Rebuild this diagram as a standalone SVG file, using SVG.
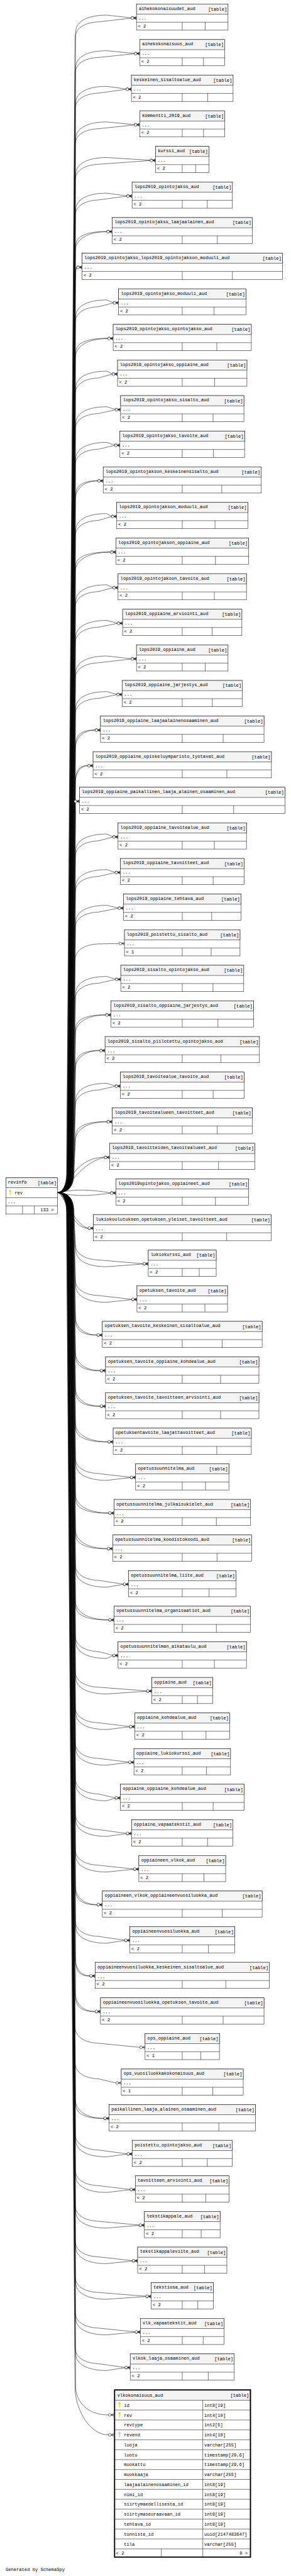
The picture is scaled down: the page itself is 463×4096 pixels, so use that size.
<svg xmlns="http://www.w3.org/2000/svg" xmlns:xlink="http://www.w3.org/1999/xlink" width="463" height="4096" viewBox="0 0 463 4096">
<defs>
<style>
text{font-family:"Liberation Mono","DejaVu Sans Mono",monospace;font-size:13.3px;fill:#000}
.e{text-anchor:end}
.t rect{fill:#fff;stroke:#000;stroke-width:1}
.t rect.h{fill:#f4f4f4}
.t path{fill:none;stroke:#000;stroke-width:1}
#connectors path{fill:none;stroke:#000;stroke-width:1;marker-end:url(#cf)}
</style>
<marker id="cf" markerUnits="userSpaceOnUse" orient="auto" refX="0" refY="0" markerWidth="20" markerHeight="12" overflow="visible">
<path d="M-8,0L0,-4.5M-8,0L0,0M-8,0L0,4.5" fill="none" stroke="#000"/>
<circle cx="-12" cy="0" r="4" fill="#fff" stroke="#000"/>
</marker>
<g id="key"><circle r="3.1"/><rect x="-0.85" y="2" width="1.7" height="10.5"/><rect x="0.8" y="7.5" width="2" height="1.3"/><circle r="1" fill="#fff"/></g>
</defs>
<rect width="463" height="4096" fill="#fff"/>
<g transform="scale(0.5375)">
<g id="connectors">
<path d="M170,3528C190,3528 200,3503 200,3468L224,94.7c0,-32 36,-50 92,-50L388,52.7h16"/>
<path d="M170,3528C187,3528 197,3503 197,3468L222,114.7c0,-30 25,-48 70,-50L388,53.7h16"/>
<path d="M170,3528C191,3528 201,3503 201,3468L224,200c0,-32 36,-50 92,-50L397.5,158h16"/>
<path d="M170,3528C188,3528 198,3503 198,3468L222,220c0,-30 25,-48 70,-50L397.5,159h16"/>
<path d="M170,3528C191,3528 201,3503 201,3468L224,305.4c0,-32 36,-50 92,-50L373,263.4h16"/>
<path d="M170,3528C188,3528 198,3503 198,3468L222,325.4c0,-30 25,-48 70,-50L373,264.4h16"/>
<path d="M170,3528C192,3528 202,3503 202,3468L224,410.7c0,-32 36,-50 92,-50L397.5,368.7h16"/>
<path d="M170,3528C189,3528 199,3503 199,3468L222,430.7c0,-30 25,-48 70,-50L397.5,369.7h16"/>
<path d="M170,3528C193,3528 203,3503 203,3468L224,516c0,-32 36,-50 92,-50L444.5,474h16"/>
<path d="M170,3528C190,3528 200,3503 200,3468L222,536c0,-30 25,-48 70,-50L444.5,475h16"/>
<path d="M170,3528C193,3528 203,3503 203,3468L224,621.4c0,-32 36,-50 92,-50L375,579.4h16"/>
<path d="M170,3528C190,3528 200,3503 200,3468L222,641.4c0,-30 25,-48 70,-50L375,580.4h16"/>
<path d="M170,3528C194,3528 204,3503 204,3468L224,726.7c0,-30 36.8,-42 92,-42h16"/>
<path d="M170,3528C191,3528 201,3503 201,3468L222,746.7c0,-40 37.6,-61 94,-61h16"/>
<path d="M170,3528C194,3528 204,3503 204,3468L224,832c0,-30 1.2,-42 3,-42h16"/>
<path d="M170,3528C191,3528 201,3503 201,3468L222,852c0,-40 2,-61 5,-61h16"/>
<path d="M170,3528C195,3528 205,3503 205,3468L224,937.3c0,-32 36,-50 92,-50L335,895.3h16"/>
<path d="M170,3528C192,3528 202,3503 202,3468L222,957.3c0,-30 25,-48 70,-50L335,896.3h16"/>
<path d="M170,3528C196,3528 206,3503 206,3468L224,1042.7c0,-30 38,-42 95,-42h16"/>
<path d="M170,3528C193,3528 203,3503 203,3468L222,1062.7c0,-40 38.8,-61 97,-61h16"/>
<path d="M170,3528C196,3528 206,3503 206,3468L224,1148c0,-32 36,-50 92,-50L332,1106h16"/>
<path d="M170,3528C193,3528 203,3503 203,3468L222,1168c0,-30 25,-48 70,-50L332,1107h16"/>
<path d="M170,3528C197,3528 207,3503 207,3468L224,1253.3c0,-32 36,-50 92,-50L341,1211.3h16"/>
<path d="M170,3528C194,3528 204,3503 204,3468L222,1273.3c0,-30 25,-48 70,-50L341,1212.3h16"/>
<path d="M170,3528C197,3528 207,3503 207,3468L224,1358.7c0,-32 36,-50 92,-50L339,1316.7h16"/>
<path d="M170,3528C194,3528 204,3503 204,3468L222,1378.7c0,-30 25,-48 70,-50L339,1317.7h16"/>
<path d="M170,3528C198,3528 208,3503 208,3468L224,1464c0,-30 26.2,-42 65.5,-42h16"/>
<path d="M170,3528C195,3528 205,3503 205,3468L222,1484c0,-40 27,-61 67.5,-61h16"/>
<path d="M170,3528C199,3528 209,3503 209,3468L224,1569.3c0,-32 36,-50 92,-50L329.5,1527.3h16"/>
<path d="M170,3528C196,3528 206,3503 206,3468L222,1589.3c0,-30 25,-48 70,-50L329.5,1528.3h16"/>
<path d="M170,3528C199,3528 209,3503 209,3468L224,1674.7c0,-30 41.2,-42 103,-42h16"/>
<path d="M170,3528C196,3528 206,3503 206,3468L222,1694.7c0,-40 42,-61 105,-61h16"/>
<path d="M170,3528C200,3528 210,3503 210,3468L224,1780c0,-32 36,-50 92,-50L333.5,1738h16"/>
<path d="M170,3528C197,3528 207,3503 207,3468L222,1800c0,-30 25,-48 70,-50L333.5,1739h16"/>
<path d="M170,3528C200,3528 210,3503 210,3468L224,1885.3c0,-32 36,-50 92,-50L347,1843.3h16"/>
<path d="M170,3528C197,3528 207,3503 207,3468L222,1905.3c0,-30 25,-48 70,-50L347,1844.3h16"/>
<path d="M170,3528C201,3528 211,3503 211,3468L224,1990.6c0,-32 36,-50 92,-50L388,1948.6h16"/>
<path d="M170,3528C198,3528 208,3503 208,3468L222,2010.6c0,-30 25,-48 70,-50L388,1949.6h16"/>
<path d="M170,3528C202,3528 212,3503 212,3468L224,2096c0,-32 36,-50 92,-50L345.5,2054h16"/>
<path d="M170,3528C199,3528 209,3503 209,3468L222,2116c0,-30 25,-48 70,-50L345.5,2055h16"/>
<path d="M170,3528C202,3528 212,3503 212,3468L224,2201.3c0,-30 23,-42 57.5,-42h16"/>
<path d="M170,3528C199,3528 209,3503 209,3468L222,2221.3c0,-40 23.8,-61 59.5,-61h16"/>
<path d="M170,3528C203,3528 213,3503 213,3468L224,2306.6c0,-30 14.2,-42 35.5,-42h16"/>
<path d="M170,3528C200,3528 210,3503 210,3468L222,2326.6c0,-40 15,-61 37.5,-61h16"/>
<path d="M170,3528C203,3528 213,3503 213,3468L224,2412c0,-30 -1.8,-42 -4.5,-42h16"/>
<path d="M170,3528C200,3528 210,3503 210,3468L222,2432c0,-40 -1,-61 -2.5,-61h16"/>
<path d="M170,3528C204,3528 214,3503 214,3468L224,2517.3c0,-32 36,-50 92,-50L333.5,2475.3h16"/>
<path d="M170,3528C201,3528 211,3503 211,3468L222,2537.3c0,-30 25,-48 70,-50L333.5,2476.3h16"/>
<path d="M170,3528C205,3528 215,3503 215,3468L224,2622.6c0,-32 36,-50 92,-50L340.5,2580.6h16"/>
<path d="M170,3528C202,3528 212,3503 212,3468L222,2642.6c0,-30 25,-48 70,-50L340.5,2581.6h16"/>
<path d="M170,3528C205,3528 215,3503 215,3468L224,2728c0,-32 36,-50 92,-50L349.5,2686h16"/>
<path d="M170,3528C202,3528 212,3503 212,3468L222,2748c0,-30 25,-48 70,-50L349.5,2687h16"/>
<path d="M170,3528C203,3528 213,3503 213,3468L222,2842.3c0,-30 25,-48 70,-50L352.5,2791.3h16"/>
<path d="M170,3528C206,3528 216,3503 216,3468L224,2938.6c0,-32 36,-50 92,-50L341.5,2896.6h16"/>
<path d="M170,3528C203,3528 213,3503 213,3468L222,2958.6c0,-30 25,-48 70,-50L341.5,2897.6h16"/>
<path d="M170,3528C207,3528 217,3503 217,3468L224,3043.9c0,-30 35.4,-42 88.5,-42h16"/>
<path d="M170,3528C204,3528 214,3503 214,3468L222,3063.9c0,-40 36.2,-61 90.5,-61h16"/>
<path d="M170,3528C208,3528 218,3503 218,3468L224,3149.3c0,-30 28.4,-42 71,-42h16"/>
<path d="M170,3528C205,3528 215,3503 215,3468L222,3169.3c0,-40 29.2,-61 73,-61h16"/>
<path d="M170,3528C208,3528 218,3503 218,3468L224,3254.6c0,-32 36,-50 92,-50L340.5,3212.6h16"/>
<path d="M170,3528C205,3528 215,3503 215,3468L222,3274.6c0,-30 25,-48 70,-50L340.5,3213.6h16"/>
<path d="M170,3528C209,3528 219,3503 219,3468L224,3359.9c0,-30 37,-42 92.5,-42h16"/>
<path d="M170,3528C206,3528 216,3503 216,3468L222,3379.9c0,-40 37.8,-61 94.5,-61h16"/>
<path d="M170,3528C200,3528 210,3425 308.5,3423.3h16"/>
<path d="M170,3528C190,3540 230,3440 308.5,3424.3h16"/>
<path d="M170,3528C230,3516 270,3520 327,3528.6h16"/>
<path d="M170,3528C230,3541 270,3537 327,3529.6h16"/>
<path d="M170,3528C195,3528 205,3632 260.5,3633.9h16"/>
<path d="M170,3528C190,3530 220,3626 260.5,3632.9h16"/>
<path d="M170,3528C209,3528 219,3553 219,3588L224,3697.3c0,32 36,50 92,50L423,3739.3h16"/>
<path d="M170,3528C206,3528 216,3553 216,3588L222,3677.3c0,30 25,48 70,50L423,3738.3h16"/>
<path d="M170,3528C208,3528 218,3553 218,3588L224,3802.6c0,32 36,50 92,50L389.5,3844.6h16"/>
<path d="M170,3528C205,3528 215,3553 215,3588L222,3782.6c0,30 25,48 70,50L389.5,3843.6h16"/>
<path d="M170,3528C208,3528 218,3553 218,3588L224,3907.9c0,30 25.2,42 63,42h16"/>
<path d="M170,3528C205,3528 215,3553 215,3588L222,3887.9c0,40 26,61 65,61h16"/>
<path d="M170,3528C207,3528 217,3553 217,3588L224,4013.2c0,30 29,42 72.5,42h16"/>
<path d="M170,3528C204,3528 214,3553 214,3588L222,3993.2c0,40 29.8,61 74.5,61h16"/>
<path d="M170,3528C206,3528 216,3553 216,3588L224,4118.6c0,30 29,42 72.5,42h16"/>
<path d="M170,3528C203,3528 213,3553 213,3588L222,4098.6c0,40 29.8,61 74.5,61h16"/>
<path d="M170,3528C206,3528 216,3553 216,3588L224,4223.9c0,30 38,42 95,42h16"/>
<path d="M170,3528C203,3528 213,3553 213,3588L222,4203.9c0,40 38.8,61 97,61h16"/>
<path d="M170,3528C205,3528 215,3553 215,3588L224,4329.2c0,32 36,50 92,50L385.5,4371.2h16"/>
<path d="M170,3528C202,3528 212,3553 212,3588L222,4309.2c0,30 25,48 70,50L385.5,4370.2h16"/>
<path d="M170,3528C205,3528 215,3553 215,3588L224,4434.6c0,30 39,42 97.5,42h16"/>
<path d="M170,3528C202,3528 212,3553 212,3588L222,4414.6c0,40 39.8,61 99.5,61h16"/>
<path d="M170,3528C204,3528 214,3553 214,3588L224,4539.9c0,30 37.4,42 93.5,42h16"/>
<path d="M170,3528C201,3528 211,3553 211,3588L222,4519.9c0,40 38.2,61 95.5,61h16"/>
<path d="M170,3528C203,3528 213,3553 213,3588L224,4645.2c0,32 36,50 92,50L364.5,4687.2h16"/>
<path d="M170,3528C200,3528 210,3553 210,3588L222,4625.2c0,30 25,48 70,50L364.5,4686.2h16"/>
<path d="M170,3528C203,3528 213,3553 213,3588L224,4750.6c0,30 39,42 97.5,42h16"/>
<path d="M170,3528C200,3528 210,3553 210,3588L222,4730.6c0,40 39.8,61 99.5,61h16"/>
<path d="M170,3528C202,3528 212,3553 212,3588L224,4855.9c0,32 36,50 92,50L333.5,4897.9h16"/>
<path d="M170,3528C199,3528 209,3553 209,3588L222,4835.9c0,30 25,48 70,50L333.5,4896.9h16"/>
<path d="M170,3528C202,3528 212,3553 212,3588L224,4961.2c0,32 36,50 92,50L433.5,5003.2h16"/>
<path d="M170,3528C199,3528 209,3553 209,3588L222,4941.2c0,30 25,48 70,50L433.5,5002.2h16"/>
<path d="M170,3528C201,3528 211,3553 211,3588L224,5066.5c0,32 36,50 92,50L383,5108.5h16"/>
<path d="M170,3528C198,3528 208,3553 208,3588L222,5046.5c0,30 25,48 70,50L383,5107.5h16"/>
<path d="M170,3528C200,3528 210,3553 210,3588L224,5171.9c0,32 36,50 92,50L380.5,5213.9h16"/>
<path d="M170,3528C197,3528 207,3553 207,3588L222,5151.9c0,30 25,48 70,50L380.5,5212.9h16"/>
<path d="M170,3528C200,3528 210,3553 210,3588L224,5277.2c0,32 36,50 92,50L340.5,5319.2h16"/>
<path d="M170,3528C197,3528 207,3553 207,3588L222,5257.2c0,30 25,48 70,50L340.5,5318.2h16"/>
<path d="M170,3528C199,3528 209,3553 209,3588L224,5382.5c0,32 36,50 92,50L373.5,5424.5h16"/>
<path d="M170,3528C196,3528 206,3553 206,3588L222,5362.5c0,30 25,48 70,50L373.5,5423.5h16"/>
<path d="M170,3528C199,3528 209,3553 209,3588L224,5487.9c0,32 36,50 92,50L395,5529.9h16"/>
<path d="M170,3528C196,3528 206,3553 206,3588L222,5467.9c0,30 25,48 70,50L395,5528.9h16"/>
<path d="M170,3528C198,3528 208,3553 208,3588L224,5593.2c0,30 25.2,42 63,42h16"/>
<path d="M170,3528C195,3528 205,3553 205,3588L222,5573.2c0,40 26,61 65,61h16"/>
<path d="M170,3528C197,3528 207,3553 207,3588L224,5698.5c0,32 36,50 92,50L368.5,5740.5h16"/>
<path d="M170,3528C194,3528 204,3553 204,3588L222,5678.5c0,30 25,48 70,50L368.5,5739.5h16"/>
<path d="M170,3528C197,3528 207,3553 207,3588L224,5803.9c0,30 16.6,42 41.5,42h16"/>
<path d="M170,3528C194,3528 204,3553 204,3588L222,5783.9c0,40 17.4,61 43.5,61h16"/>
<path d="M170,3528C196,3528 206,3553 206,3588L224,5909.2c0,30 23,42 57.5,42h16"/>
<path d="M170,3528C193,3528 203,3553 203,3588L222,5889.2c0,40 23.8,61 59.5,61h16"/>
<path d="M170,3528C193,3528 203,3553 203,3588L222,5994.5c0,30 25,48 70,50L413.5,6056.5h16"/>
<path d="M170,3528C192,3528 202,3553 202,3588L222,6099.8c0,30 25,48 70,50L343,6161.8h16"/>
<path d="M170,3528C194,3528 204,3553 204,3588L224,6225.2c0,30 33.2,42 83,42h16"/>
<path d="M170,3528C191,3528 201,3553 201,3588L222,6205.2c0,40 34,61 85,61h16"/>
<path d="M170,3528C194,3528 204,3553 204,3588L224,6330.5c0,32 36,50 92,50L375.5,6372.5h16"/>
<path d="M170,3528C191,3528 201,3553 201,3588L222,6310.5c0,30 25,48 70,50L375.5,6371.5h16"/>
<path d="M170,3528C193,3528 203,3553 203,3588L224,6435.8c0,32 36,50 92,50L384.5,6477.8h16"/>
<path d="M170,3528C190,3528 200,3553 200,3588L222,6415.8c0,30 25,48 70,50L384.5,6476.8h16"/>
<path d="M170,3528C193,3528 203,3553 203,3588L224,6541.2c0,32 36,50 92,50L411.5,6583.2h16"/>
<path d="M170,3528C190,3528 200,3553 200,3588L222,6521.2c0,30 25,48 70,50L411.5,6582.2h16"/>
<path d="M170,3528C192,3528 202,3553 202,3588L224,6646.5c0,32 36,50 92,50L391.5,6688.5h16"/>
<path d="M170,3528C189,3528 199,3553 199,3588L222,6626.5c0,30 25,48 70,50L391.5,6687.5h16"/>
<path d="M170,3528C191,3528 201,3553 201,3588L224,6751.8c0,32 36,50 92,50L431.5,6793.8h16"/>
<path d="M170,3528C188,3528 198,3553 198,3588L222,6731.8c0,30 25,48 70,50L431.5,6792.8h16"/>
<path d="M170,3528C191,3528 201,3553 201,3588L224,6857.2c0,32 36,50 92,50L399.5,6899.2h16"/>
<path d="M170,3528C188,3528 198,3553 198,3588L222,6837.2c0,30 25,48 70,50L399.5,6898.2h16"/>
<path d="M170,3528C190,3528 200,3553 200,3588L224,6962.5c0,32 36,50 92,50L369.5,7004.5h16"/>
<path d="M170,3528C187,3528 197,3553 197,3588L222,6942.5c0,30 25,48 70,50L369.5,7003.5h16"/>
<path d="M170,3528C190,3528 200,3553 200,3588L224,7060c0,40 30,84 97,84h16"/>
<path d="M170,3528C187,3528 197,3553 197,3588L222,7062c0,60 40,141 99,141h16"/>
</g>
<g id="revinfo" class="t" transform="translate(17.3,3484.3)"><rect width="153" height="106.7"/><rect class="h" width="153" height="29"/><path d="M0,59H153M0,83H153M49.4,83V106.7M84.4,83V106.7"/><use xlink:href="#key" x="12.7" y="39" fill="#d4d400"/><text x="6" y="18">revinfo</text><text class="e" x="150" y="19.5">[table]</text><text x="26" y="49">rev</text><text x="5.4" y="75">...</text><text class="e" x="142" y="98.4">133 &gt;</text></g>
<g id="aihekokonaisuudet_aud" class="t" transform="translate(404,11.7)"><rect width="271" height="77.5"/><rect class="h" width="271" height="30"/><path d="M0,54H271M135.5,54V77.5M203.3,54V77.5"/><text x="7" y="17.5">aihekokonaisuudet_aud</text><text class="e" x="268" y="19.5">[table]</text><text x="6" y="45.5">...</text><text x="4.5" y="69.5">&lt; 2</text></g>
<g id="aihekokonaisuus_aud" class="t" transform="translate(413.5,117)"><rect width="252" height="77.5"/><rect class="h" width="252" height="30"/><path d="M0,54H252M126,54V77.5M189,54V77.5"/><text x="7" y="17.5">aihekokonaisuus_aud</text><text class="e" x="249" y="19.5">[table]</text><text x="6" y="45.5">...</text><text x="4.5" y="69.5">&lt; 2</text></g>
<g id="keskeinen_sisaltoalue_aud" class="t" transform="translate(389,222.4)"><rect width="301" height="77.5"/><rect class="h" width="301" height="30"/><path d="M0,54H301M150.5,54V77.5M225.8,54V77.5"/><text x="7" y="17.5">keskeinen_sisaltoalue_aud</text><text class="e" x="298" y="19.5">[table]</text><text x="6" y="45.5">...</text><text x="4.5" y="69.5">&lt; 2</text></g>
<g id="kommentti_2019_aud" class="t" transform="translate(413.5,327.7)"><rect width="252" height="77.5"/><rect class="h" width="252" height="30"/><path d="M0,54H252M126,54V77.5M189,54V77.5"/><text x="7" y="17.5">kommentti_2019_aud</text><text class="e" x="249" y="19.5">[table]</text><text x="6" y="45.5">...</text><text x="4.5" y="69.5">&lt; 2</text></g>
<g id="kurssi_aud" class="t" transform="translate(460.5,433)"><rect width="158" height="77.5"/><rect class="h" width="158" height="30"/><path d="M0,54H158M79,54V77.5M118.5,54V77.5"/><text x="7" y="17.5">kurssi_aud</text><text class="e" x="155" y="19.5">[table]</text><text x="6" y="45.5">...</text><text x="4.5" y="69.5">&lt; 2</text></g>
<g id="lops2019_opintojakso_aud" class="t" transform="translate(391,538.4)"><rect width="297" height="77.5"/><rect class="h" width="297" height="30"/><path d="M0,54H297M148.5,54V77.5M222.8,54V77.5"/><text x="7" y="17.5">lops2019_opintojakso_aud</text><text class="e" x="294" y="19.5">[table]</text><text x="6" y="45.5">...</text><text x="4.5" y="69.5">&lt; 2</text></g>
<g id="lops2019_opintojakso_laajaalainen_aud" class="t" transform="translate(332,643.7)"><rect width="415" height="77.5"/><rect class="h" width="415" height="30"/><path d="M0,54H415M207.5,54V77.5M311.3,54V77.5"/><text x="7" y="17.5">lops2019_opintojakso_laajaalainen_aud</text><text class="e" x="412" y="19.5">[table]</text><text x="6" y="45.5">...</text><text x="4.5" y="69.5">&lt; 2</text></g>
<g id="lops2019_opintojakso_lops2019_opintojakson_moduuli_aud" class="t" transform="translate(243,749)"><rect width="593" height="77.5"/><rect class="h" width="593" height="30"/><path d="M0,54H593M296.5,54V77.5M444.8,54V77.5"/><text x="7" y="17.5">lops2019_opintojakso_lops2019_opintojakson_moduuli_aud</text><text class="e" x="590" y="19.5">[table]</text><text x="6" y="45.5">...</text><text x="4.5" y="69.5">&lt; 2</text></g>
<g id="lops2019_opintojakso_moduuli_aud" class="t" transform="translate(351,854.3)"><rect width="377" height="77.5"/><rect class="h" width="377" height="30"/><path d="M0,54H377M188.5,54V77.5M282.8,54V77.5"/><text x="7" y="17.5">lops2019_opintojakso_moduuli_aud</text><text class="e" x="374" y="19.5">[table]</text><text x="6" y="45.5">...</text><text x="4.5" y="69.5">&lt; 2</text></g>
<g id="lops2019_opintojakso_opintojakso_aud" class="t" transform="translate(335,959.7)"><rect width="409" height="77.5"/><rect class="h" width="409" height="30"/><path d="M0,54H409M204.5,54V77.5M306.8,54V77.5"/><text x="7" y="17.5">lops2019_opintojakso_opintojakso_aud</text><text class="e" x="406" y="19.5">[table]</text><text x="6" y="45.5">...</text><text x="4.5" y="69.5">&lt; 2</text></g>
<g id="lops2019_opintojakso_oppiaine_aud" class="t" transform="translate(348,1065)"><rect width="383" height="77.5"/><rect class="h" width="383" height="30"/><path d="M0,54H383M191.5,54V77.5M287.3,54V77.5"/><text x="7" y="17.5">lops2019_opintojakso_oppiaine_aud</text><text class="e" x="380" y="19.5">[table]</text><text x="6" y="45.5">...</text><text x="4.5" y="69.5">&lt; 2</text></g>
<g id="lops2019_opintojakso_sisalto_aud" class="t" transform="translate(357,1170.3)"><rect width="365" height="77.5"/><rect class="h" width="365" height="30"/><path d="M0,54H365M182.5,54V77.5M273.8,54V77.5"/><text x="7" y="17.5">lops2019_opintojakso_sisalto_aud</text><text class="e" x="362" y="19.5">[table]</text><text x="6" y="45.5">...</text><text x="4.5" y="69.5">&lt; 2</text></g>
<g id="lops2019_opintojakso_tavoite_aud" class="t" transform="translate(355,1275.7)"><rect width="369" height="77.5"/><rect class="h" width="369" height="30"/><path d="M0,54H369M184.5,54V77.5M276.8,54V77.5"/><text x="7" y="17.5">lops2019_opintojakso_tavoite_aud</text><text class="e" x="366" y="19.5">[table]</text><text x="6" y="45.5">...</text><text x="4.5" y="69.5">&lt; 2</text></g>
<g id="lops2019_opintojakson_keskeinensisalto_aud" class="t" transform="translate(305.5,1381)"><rect width="468" height="77.5"/><rect class="h" width="468" height="30"/><path d="M0,54H468M234,54V77.5M351,54V77.5"/><text x="7" y="17.5">lops2019_opintojakson_keskeinensisalto_aud</text><text class="e" x="465" y="19.5">[table]</text><text x="6" y="45.5">...</text><text x="4.5" y="69.5">&lt; 2</text></g>
<g id="lops2019_opintojakson_moduuli_aud" class="t" transform="translate(345.5,1486.3)"><rect width="388" height="77.5"/><rect class="h" width="388" height="30"/><path d="M0,54H388M194,54V77.5M291,54V77.5"/><text x="7" y="17.5">lops2019_opintojakson_moduuli_aud</text><text class="e" x="385" y="19.5">[table]</text><text x="6" y="45.5">...</text><text x="4.5" y="69.5">&lt; 2</text></g>
<g id="lops2019_opintojakson_oppiaine_aud" class="t" transform="translate(343,1591.7)"><rect width="393" height="77.5"/><rect class="h" width="393" height="30"/><path d="M0,54H393M196.5,54V77.5M294.8,54V77.5"/><text x="7" y="17.5">lops2019_opintojakson_oppiaine_aud</text><text class="e" x="390" y="19.5">[table]</text><text x="6" y="45.5">...</text><text x="4.5" y="69.5">&lt; 2</text></g>
<g id="lops2019_opintojakson_tavoite_aud" class="t" transform="translate(349.5,1697)"><rect width="380" height="77.5"/><rect class="h" width="380" height="30"/><path d="M0,54H380M190,54V77.5M285,54V77.5"/><text x="7" y="17.5">lops2019_opintojakson_tavoite_aud</text><text class="e" x="377" y="19.5">[table]</text><text x="6" y="45.5">...</text><text x="4.5" y="69.5">&lt; 2</text></g>
<g id="lops2019_oppiaine_arviointi_aud" class="t" transform="translate(363,1802.3)"><rect width="353" height="77.5"/><rect class="h" width="353" height="30"/><path d="M0,54H353M176.5,54V77.5M264.8,54V77.5"/><text x="7" y="17.5">lops2019_oppiaine_arviointi_aud</text><text class="e" x="350" y="19.5">[table]</text><text x="6" y="45.5">...</text><text x="4.5" y="69.5">&lt; 2</text></g>
<g id="lops2019_oppiaine_aud" class="t" transform="translate(404,1907.6)"><rect width="271" height="77.5"/><rect class="h" width="271" height="30"/><path d="M0,54H271M135.5,54V77.5M203.3,54V77.5"/><text x="7" y="17.5">lops2019_oppiaine_aud</text><text class="e" x="268" y="19.5">[table]</text><text x="6" y="45.5">...</text><text x="4.5" y="69.5">&lt; 2</text></g>
<g id="lops2019_oppiaine_jarjestys_aud" class="t" transform="translate(361.5,2013)"><rect width="356" height="77.5"/><rect class="h" width="356" height="30"/><path d="M0,54H356M178,54V77.5M267,54V77.5"/><text x="7" y="17.5">lops2019_oppiaine_jarjestys_aud</text><text class="e" x="353" y="19.5">[table]</text><text x="6" y="45.5">...</text><text x="4.5" y="69.5">&lt; 2</text></g>
<g id="lops2019_oppiaine_laajaalainenosaaminen_aud" class="t" transform="translate(297.5,2118.3)"><rect width="484" height="77.5"/><rect class="h" width="484" height="30"/><path d="M0,54H484M242,54V77.5M363,54V77.5"/><text x="7" y="17.5">lops2019_oppiaine_laajaalainenosaaminen_aud</text><text class="e" x="481" y="19.5">[table]</text><text x="6" y="45.5">...</text><text x="4.5" y="69.5">&lt; 2</text></g>
<g id="lops2019_oppiaine_opiskeluymparisto_tyotavat_aud" class="t" transform="translate(275.5,2223.6)"><rect width="528" height="77.5"/><rect class="h" width="528" height="30"/><path d="M0,54H528M264,54V77.5M396,54V77.5"/><text x="7" y="17.5">lops2019_oppiaine_opiskeluymparisto_tyotavat_aud</text><text class="e" x="525" y="19.5">[table]</text><text x="6" y="45.5">...</text><text x="4.5" y="69.5">&lt; 2</text></g>
<g id="lops2019_oppiaine_paikallinen_laaja_alainen_osaaminen_aud" class="t" transform="translate(235.5,2329)"><rect width="608" height="77.5"/><rect class="h" width="608" height="30"/><path d="M0,54H608M304,54V77.5M456,54V77.5"/><text x="7" y="17.5">lops2019_oppiaine_paikallinen_laaja_alainen_osaaminen_aud</text><text class="e" x="605" y="19.5">[table]</text><text x="6" y="45.5">...</text><text x="4.5" y="69.5">&lt; 2</text></g>
<g id="lops2019_oppiaine_tavoitealue_aud" class="t" transform="translate(349.5,2434.3)"><rect width="380" height="77.5"/><rect class="h" width="380" height="30"/><path d="M0,54H380M190,54V77.5M285,54V77.5"/><text x="7" y="17.5">lops2019_oppiaine_tavoitealue_aud</text><text class="e" x="377" y="19.5">[table]</text><text x="6" y="45.5">...</text><text x="4.5" y="69.5">&lt; 2</text></g>
<g id="lops2019_oppiaine_tavoitteet_aud" class="t" transform="translate(356.5,2539.6)"><rect width="366" height="77.5"/><rect class="h" width="366" height="30"/><path d="M0,54H366M183,54V77.5M274.5,54V77.5"/><text x="7" y="17.5">lops2019_oppiaine_tavoitteet_aud</text><text class="e" x="363" y="19.5">[table]</text><text x="6" y="45.5">...</text><text x="4.5" y="69.5">&lt; 2</text></g>
<g id="lops2019_oppiaine_tehtava_aud" class="t" transform="translate(365.5,2645)"><rect width="348" height="77.5"/><rect class="h" width="348" height="30"/><path d="M0,54H348M174,54V77.5M261,54V77.5"/><text x="7" y="17.5">lops2019_oppiaine_tehtava_aud</text><text class="e" x="345" y="19.5">[table]</text><text x="6" y="45.5">...</text><text x="4.5" y="69.5">&lt; 2</text></g>
<g id="lops2019_poistettu_sisalto_aud" class="t" transform="translate(368.5,2750.3)"><rect width="342" height="77.5"/><rect class="h" width="342" height="30"/><path d="M0,54H342M171,54V77.5M256.5,54V77.5"/><text x="7" y="17.5">lops2019_poistettu_sisalto_aud</text><text class="e" x="339" y="19.5">[table]</text><text x="6" y="45.5">...</text><text x="4.5" y="69.5">&lt; 1</text></g>
<g id="lops2019_sisalto_opintojakso_aud" class="t" transform="translate(357.5,2855.6)"><rect width="364" height="77.5"/><rect class="h" width="364" height="30"/><path d="M0,54H364M182,54V77.5M273,54V77.5"/><text x="7" y="17.5">lops2019_sisalto_opintojakso_aud</text><text class="e" x="361" y="19.5">[table]</text><text x="6" y="45.5">...</text><text x="4.5" y="69.5">&lt; 2</text></g>
<g id="lops2019_sisalto_oppiaine_jarjestys_aud" class="t" transform="translate(328.5,2960.9)"><rect width="422" height="77.5"/><rect class="h" width="422" height="30"/><path d="M0,54H422M211,54V77.5M316.5,54V77.5"/><text x="7" y="17.5">lops2019_sisalto_oppiaine_jarjestys_aud</text><text class="e" x="419" y="19.5">[table]</text><text x="6" y="45.5">...</text><text x="4.5" y="69.5">&lt; 2</text></g>
<g id="lops2019_sisalto_piilotettu_opintojakso_aud" class="t" transform="translate(311,3066.3)"><rect width="457" height="77.5"/><rect class="h" width="457" height="30"/><path d="M0,54H457M228.5,54V77.5M342.8,54V77.5"/><text x="7" y="17.5">lops2019_sisalto_piilotettu_opintojakso_aud</text><text class="e" x="454" y="19.5">[table]</text><text x="6" y="45.5">...</text><text x="4.5" y="69.5">&lt; 2</text></g>
<g id="lops2019_tavoitealue_tavoite_aud" class="t" transform="translate(356.5,3171.6)"><rect width="366" height="77.5"/><rect class="h" width="366" height="30"/><path d="M0,54H366M183,54V77.5M274.5,54V77.5"/><text x="7" y="17.5">lops2019_tavoitealue_tavoite_aud</text><text class="e" x="363" y="19.5">[table]</text><text x="6" y="45.5">...</text><text x="4.5" y="69.5">&lt; 2</text></g>
<g id="lops2019_tavoitealueen_tavoitteet_aud" class="t" transform="translate(332.5,3276.9)"><rect width="414" height="77.5"/><rect class="h" width="414" height="30"/><path d="M0,54H414M207,54V77.5M310.5,54V77.5"/><text x="7" y="17.5">lops2019_tavoitealueen_tavoitteet_aud</text><text class="e" x="411" y="19.5">[table]</text><text x="6" y="45.5">...</text><text x="4.5" y="69.5">&lt; 2</text></g>
<g id="lops2019_tavoitteiden_tavoitealueet_aud" class="t" transform="translate(324.5,3382.3)"><rect width="430" height="77.5"/><rect class="h" width="430" height="30"/><path d="M0,54H430M215,54V77.5M322.5,54V77.5"/><text x="7" y="17.5">lops2019_tavoitteiden_tavoitealueet_aud</text><text class="e" x="427" y="19.5">[table]</text><text x="6" y="45.5">...</text><text x="4.5" y="69.5">&lt; 2</text></g>
<g id="lops2019opintojakso_oppiaineet_aud" class="t" transform="translate(343,3487.6)"><rect width="393" height="77.5"/><rect class="h" width="393" height="30"/><path d="M0,54H393M196.5,54V77.5M294.8,54V77.5"/><text x="7" y="17.5">lops2019opintojakso_oppiaineet_aud</text><text class="e" x="390" y="19.5">[table]</text><text x="6" y="45.5">...</text><text x="4.5" y="69.5">&lt; 2</text></g>
<g id="lukiokoulutuksen_opetuksen_yleiset_tavoitteet_aud" class="t" transform="translate(276.5,3592.9)"><rect width="526" height="77.5"/><rect class="h" width="526" height="30"/><path d="M0,54H526M263,54V77.5M394.5,54V77.5"/><text x="7" y="17.5">lukiokoulutuksen_opetuksen_yleiset_tavoitteet_aud</text><text class="e" x="523" y="19.5">[table]</text><text x="6" y="45.5">...</text><text x="4.5" y="69.5">&lt; 2</text></g>
<g id="lukiokurssi_aud" class="t" transform="translate(439,3698.3)"><rect width="201" height="77.5"/><rect class="h" width="201" height="30"/><path d="M0,54H201M100.5,54V77.5M150.8,54V77.5"/><text x="7" y="17.5">lukiokurssi_aud</text><text class="e" x="198" y="19.5">[table]</text><text x="6" y="45.5">...</text><text x="4.5" y="69.5">&lt; 2</text></g>
<g id="opetuksen_tavoite_aud" class="t" transform="translate(405.5,3803.6)"><rect width="268" height="77.5"/><rect class="h" width="268" height="30"/><path d="M0,54H268M134,54V77.5M201,54V77.5"/><text x="7" y="17.5">opetuksen_tavoite_aud</text><text class="e" x="265" y="19.5">[table]</text><text x="6" y="45.5">...</text><text x="4.5" y="69.5">&lt; 2</text></g>
<g id="opetuksen_tavoite_keskeinen_sisaltoalue_aud" class="t" transform="translate(303,3908.9)"><rect width="473" height="77.5"/><rect class="h" width="473" height="30"/><path d="M0,54H473M236.5,54V77.5M354.8,54V77.5"/><text x="7" y="17.5">opetuksen_tavoite_keskeinen_sisaltoalue_aud</text><text class="e" x="470" y="19.5">[table]</text><text x="6" y="45.5">...</text><text x="4.5" y="69.5">&lt; 2</text></g>
<g id="opetuksen_tavoite_oppiaine_kohdealue_aud" class="t" transform="translate(312.5,4014.2)"><rect width="454" height="77.5"/><rect class="h" width="454" height="30"/><path d="M0,54H454M227,54V77.5M340.5,54V77.5"/><text x="7" y="17.5">opetuksen_tavoite_oppiaine_kohdealue_aud</text><text class="e" x="451" y="19.5">[table]</text><text x="6" y="45.5">...</text><text x="4.5" y="69.5">&lt; 2</text></g>
<g id="opetuksen_tavoite_tavoitteen_arviointi_aud" class="t" transform="translate(312.5,4119.6)"><rect width="454" height="77.5"/><rect class="h" width="454" height="30"/><path d="M0,54H454M227,54V77.5M340.5,54V77.5"/><text x="7" y="17.5">opetuksen_tavoite_tavoitteen_arviointi_aud</text><text class="e" x="451" y="19.5">[table]</text><text x="6" y="45.5">...</text><text x="4.5" y="69.5">&lt; 2</text></g>
<g id="opetuksentavoite_laajattavoitteet_aud" class="t" transform="translate(335,4224.9)"><rect width="409" height="77.5"/><rect class="h" width="409" height="30"/><path d="M0,54H409M204.5,54V77.5M306.8,54V77.5"/><text x="7" y="17.5">opetuksentavoite_laajattavoitteet_aud</text><text class="e" x="406" y="19.5">[table]</text><text x="6" y="45.5">...</text><text x="4.5" y="69.5">&lt; 2</text></g>
<g id="opetussuunnitelma_aud" class="t" transform="translate(401.5,4330.2)"><rect width="276" height="77.5"/><rect class="h" width="276" height="30"/><path d="M0,54H276M138,54V77.5M207,54V77.5"/><text x="7" y="17.5">opetussuunnitelma_aud</text><text class="e" x="273" y="19.5">[table]</text><text x="6" y="45.5">...</text><text x="4.5" y="69.5">&lt; 2</text></g>
<g id="opetussuunnitelma_julkaisukielet_aud" class="t" transform="translate(337.5,4435.6)"><rect width="404" height="77.5"/><rect class="h" width="404" height="30"/><path d="M0,54H404M202,54V77.5M303,54V77.5"/><text x="7" y="17.5">opetussuunnitelma_julkaisukielet_aud</text><text class="e" x="401" y="19.5">[table]</text><text x="6" y="45.5">...</text><text x="4.5" y="69.5">&lt; 2</text></g>
<g id="opetussuunnitelma_koodistokoodi_aud" class="t" transform="translate(333.5,4540.9)"><rect width="412" height="77.5"/><rect class="h" width="412" height="30"/><path d="M0,54H412M206,54V77.5M309,54V77.5"/><text x="7" y="17.5">opetussuunnitelma_koodistokoodi_aud</text><text class="e" x="409" y="19.5">[table]</text><text x="6" y="45.5">...</text><text x="4.5" y="69.5">&lt; 2</text></g>
<g id="opetussuunnitelma_liite_aud" class="t" transform="translate(380.5,4646.2)"><rect width="318" height="77.5"/><rect class="h" width="318" height="30"/><path d="M0,54H318M159,54V77.5M238.5,54V77.5"/><text x="7" y="17.5">opetussuunnitelma_liite_aud</text><text class="e" x="315" y="19.5">[table]</text><text x="6" y="45.5">...</text><text x="4.5" y="69.5">&lt; 2</text></g>
<g id="opetussuunnitelma_organisaatiot_aud" class="t" transform="translate(337.5,4751.6)"><rect width="404" height="77.5"/><rect class="h" width="404" height="30"/><path d="M0,54H404M202,54V77.5M303,54V77.5"/><text x="7" y="17.5">opetussuunnitelma_organisaatiot_aud</text><text class="e" x="401" y="19.5">[table]</text><text x="6" y="45.5">...</text><text x="4.5" y="69.5">&lt; 2</text></g>
<g id="opetussuunnitelman_aikataulu_aud" class="t" transform="translate(349.5,4856.9)"><rect width="380" height="77.5"/><rect class="h" width="380" height="30"/><path d="M0,54H380M190,54V77.5M285,54V77.5"/><text x="7" y="17.5">opetussuunnitelman_aikataulu_aud</text><text class="e" x="377" y="19.5">[table]</text><text x="6" y="45.5">...</text><text x="4.5" y="69.5">&lt; 2</text></g>
<g id="oppiaine_aud" class="t" transform="translate(449.5,4962.2)"><rect width="180" height="77.5"/><rect class="h" width="180" height="30"/><path d="M0,54H180M90,54V77.5M135,54V77.5"/><text x="7" y="17.5">oppiaine_aud</text><text class="e" x="177" y="19.5">[table]</text><text x="6" y="45.5">...</text><text x="4.5" y="69.5">&lt; 2</text></g>
<g id="oppiaine_kohdealue_aud" class="t" transform="translate(399,5067.5)"><rect width="281" height="77.5"/><rect class="h" width="281" height="30"/><path d="M0,54H281M140.5,54V77.5M210.8,54V77.5"/><text x="7" y="17.5">oppiaine_kohdealue_aud</text><text class="e" x="278" y="19.5">[table]</text><text x="6" y="45.5">...</text><text x="4.5" y="69.5">&lt; 2</text></g>
<g id="oppiaine_lukiokurssi_aud" class="t" transform="translate(396.5,5172.9)"><rect width="286" height="77.5"/><rect class="h" width="286" height="30"/><path d="M0,54H286M143,54V77.5M214.5,54V77.5"/><text x="7" y="17.5">oppiaine_lukiokurssi_aud</text><text class="e" x="283" y="19.5">[table]</text><text x="6" y="45.5">...</text><text x="4.5" y="69.5">&lt; 2</text></g>
<g id="oppiaine_oppiaine_kohdealue_aud" class="t" transform="translate(356.5,5278.2)"><rect width="366" height="77.5"/><rect class="h" width="366" height="30"/><path d="M0,54H366M183,54V77.5M274.5,54V77.5"/><text x="7" y="17.5">oppiaine_oppiaine_kohdealue_aud</text><text class="e" x="363" y="19.5">[table]</text><text x="6" y="45.5">...</text><text x="4.5" y="69.5">&lt; 2</text></g>
<g id="oppiaine_vapaatekstit_aud" class="t" transform="translate(389.5,5383.5)"><rect width="300" height="77.5"/><rect class="h" width="300" height="30"/><path d="M0,54H300M150,54V77.5M225,54V77.5"/><text x="7" y="17.5">oppiaine_vapaatekstit_aud</text><text class="e" x="297" y="19.5">[table]</text><text x="6" y="45.5">...</text><text x="4.5" y="69.5">&lt; 2</text></g>
<g id="oppiaineen_vlkok_aud" class="t" transform="translate(411,5488.9)"><rect width="257" height="77.5"/><rect class="h" width="257" height="30"/><path d="M0,54H257M128.5,54V77.5M192.8,54V77.5"/><text x="7" y="17.5">oppiaineen_vlkok_aud</text><text class="e" x="254" y="19.5">[table]</text><text x="6" y="45.5">...</text><text x="4.5" y="69.5">&lt; 2</text></g>
<g id="oppiaineen_vlkok_oppiaineenvuosiluokka_aud" class="t" transform="translate(303,5594.2)"><rect width="473" height="77.5"/><rect class="h" width="473" height="30"/><path d="M0,54H473M236.5,54V77.5M354.8,54V77.5"/><text x="7" y="17.5">oppiaineen_vlkok_oppiaineenvuosiluokka_aud</text><text class="e" x="470" y="19.5">[table]</text><text x="6" y="45.5">...</text><text x="4.5" y="69.5">&lt; 2</text></g>
<g id="oppiaineenvuosiluokka_aud" class="t" transform="translate(384.5,5699.5)"><rect width="310" height="77.5"/><rect class="h" width="310" height="30"/><path d="M0,54H310M155,54V77.5M232.5,54V77.5"/><text x="7" y="17.5">oppiaineenvuosiluokka_aud</text><text class="e" x="307" y="19.5">[table]</text><text x="6" y="45.5">...</text><text x="4.5" y="69.5">&lt; 2</text></g>
<g id="oppiaineenvuosiluokka_keskeinen_sisaltoalue_aud" class="t" transform="translate(281.5,5804.9)"><rect width="516" height="77.5"/><rect class="h" width="516" height="30"/><path d="M0,54H516M258,54V77.5M387,54V77.5"/><text x="7" y="17.5">oppiaineenvuosiluokka_keskeinen_sisaltoalue_aud</text><text class="e" x="513" y="19.5">[table]</text><text x="6" y="45.5">...</text><text x="4.5" y="69.5">&lt; 2</text></g>
<g id="oppiaineenvuosiluokka_opetuksen_tavoite_aud" class="t" transform="translate(297.5,5910.2)"><rect width="484" height="77.5"/><rect class="h" width="484" height="30"/><path d="M0,54H484M242,54V77.5M363,54V77.5"/><text x="7" y="17.5">oppiaineenvuosiluokka_opetuksen_tavoite_aud</text><text class="e" x="481" y="19.5">[table]</text><text x="6" y="45.5">...</text><text x="4.5" y="69.5">&lt; 2</text></g>
<g id="ops_oppiaine_aud" class="t" transform="translate(429.5,6015.5)"><rect width="220" height="77.5"/><rect class="h" width="220" height="30"/><path d="M0,54H220M110,54V77.5M165,54V77.5"/><text x="7" y="17.5">ops_oppiaine_aud</text><text class="e" x="217" y="19.5">[table]</text><text x="6" y="45.5">...</text><text x="4.5" y="69.5">&lt; 1</text></g>
<g id="ops_vuosiluokkakokonaisuus_aud" class="t" transform="translate(359,6120.8)"><rect width="361" height="77.5"/><rect class="h" width="361" height="30"/><path d="M0,54H361M180.5,54V77.5M270.8,54V77.5"/><text x="7" y="17.5">ops_vuosiluokkakokonaisuus_aud</text><text class="e" x="358" y="19.5">[table]</text><text x="6" y="45.5">...</text><text x="4.5" y="69.5">&lt; 1</text></g>
<g id="paikallinen_laaja_alainen_osaaminen_aud" class="t" transform="translate(323,6226.2)"><rect width="433" height="77.5"/><rect class="h" width="433" height="30"/><path d="M0,54H433M216.5,54V77.5M324.8,54V77.5"/><text x="7" y="17.5">paikallinen_laaja_alainen_osaaminen_aud</text><text class="e" x="430" y="19.5">[table]</text><text x="6" y="45.5">...</text><text x="4.5" y="69.5">&lt; 2</text></g>
<g id="poistettu_opintojakso_aud" class="t" transform="translate(391.5,6331.5)"><rect width="296" height="77.5"/><rect class="h" width="296" height="30"/><path d="M0,54H296M148,54V77.5M222,54V77.5"/><text x="7" y="17.5">poistettu_opintojakso_aud</text><text class="e" x="293" y="19.5">[table]</text><text x="6" y="45.5">...</text><text x="4.5" y="69.5">&lt; 2</text></g>
<g id="tavoitteen_arviointi_aud" class="t" transform="translate(400.5,6436.8)"><rect width="278" height="77.5"/><rect class="h" width="278" height="30"/><path d="M0,54H278M139,54V77.5M208.5,54V77.5"/><text x="7" y="17.5">tavoitteen_arviointi_aud</text><text class="e" x="275" y="19.5">[table]</text><text x="6" y="45.5">...</text><text x="4.5" y="69.5">&lt; 2</text></g>
<g id="tekstikappale_aud" class="t" transform="translate(427.5,6542.2)"><rect width="224" height="77.5"/><rect class="h" width="224" height="30"/><path d="M0,54H224M112,54V77.5M168,54V77.5"/><text x="7" y="17.5">tekstikappale_aud</text><text class="e" x="221" y="19.5">[table]</text><text x="6" y="45.5">...</text><text x="4.5" y="69.5">&lt; 2</text></g>
<g id="tekstikappaleviite_aud" class="t" transform="translate(407.5,6647.5)"><rect width="264" height="77.5"/><rect class="h" width="264" height="30"/><path d="M0,54H264M132,54V77.5M198,54V77.5"/><text x="7" y="17.5">tekstikappaleviite_aud</text><text class="e" x="261" y="19.5">[table]</text><text x="6" y="45.5">...</text><text x="4.5" y="69.5">&lt; 2</text></g>
<g id="tekstiosa_aud" class="t" transform="translate(447.5,6752.8)"><rect width="184" height="77.5"/><rect class="h" width="184" height="30"/><path d="M0,54H184M92,54V77.5M138,54V77.5"/><text x="7" y="17.5">tekstiosa_aud</text><text class="e" x="181" y="19.5">[table]</text><text x="6" y="45.5">...</text><text x="4.5" y="69.5">&lt; 2</text></g>
<g id="vlk_vapaatekstit_aud" class="t" transform="translate(415.5,6858.2)"><rect width="248" height="77.5"/><rect class="h" width="248" height="30"/><path d="M0,54H248M124,54V77.5M186,54V77.5"/><text x="7" y="17.5">vlk_vapaatekstit_aud</text><text class="e" x="245" y="19.5">[table]</text><text x="6" y="45.5">...</text><text x="4.5" y="69.5">&lt; 2</text></g>
<g id="vlkok_laaja_osaaminen_aud" class="t" transform="translate(385.5,6963.5)"><rect width="308" height="77.5"/><rect class="h" width="308" height="30"/><path d="M0,54H308M154,54V77.5M231,54V77.5"/><text x="7" y="17.5">vlkok_laaja_osaaminen_aud</text><text class="e" x="305" y="19.5">[table]</text><text x="6" y="45.5">...</text><text x="4.5" y="69.5">&lt; 2</text></g>
<g id="vlkokonaisuus_aud" class="t" transform="translate(340.4,7071.3)"><rect width="399.8" height="491.9"/><rect class="h" width="399.8" height="28.9"/><path d="M0,58.2H399.8M0,87.6H399.8M0,116.9H399.8M0,146.2H399.8M0,175.6H399.8M0,204.9H399.8M0,234.2H399.8M0,263.5H399.8M0,292.9H399.8M0,322.2H399.8M0,351.5H399.8M0,380.9H399.8M0,410.2H399.8M0,439.5H399.8M0,468.9H399.8M259.9,28.9V491.9M137.2,468.9V491.9"/><rect x="-1.5" y="-1.5" width="402.8" height="494.9" style="fill:none;stroke-width:3"/><use xlink:href="#key" x="13.4" y="38.4" fill="#d4d400"/><use xlink:href="#key" x="13.4" y="67.7" fill="#d4d400"/><use xlink:href="#key" x="13.4" y="126.4" fill="#b4b4b4"/><text x="7" y="18.2">vlkokonaisuus_aud</text><text class="e" x="397.1" y="19.7">[table]</text><text x="26.6" y="48.4">id</text><text x="264.1" y="48.4">int8[19]</text><text x="26.6" y="77.7">rev</text><text x="264.1" y="77.7">int4[10]</text><text x="26.6" y="107.1">revtype</text><text x="264.1" y="107.1">int2[5]</text><text x="26.6" y="136.4">revend</text><text x="264.1" y="136.4">int4[10]</text><text x="26.6" y="165.7">luoja</text><text x="264.1" y="165.7">varchar[255]</text><text x="26.6" y="195.1">luotu</text><text x="264.1" y="195.1">timestamp[29,6]</text><text x="26.6" y="224.4">muokattu</text><text x="264.1" y="224.4">timestamp[29,6]</text><text x="26.6" y="253.7">muokkaaja</text><text x="264.1" y="253.7">varchar[255]</text><text x="26.6" y="283">laajaalainenosaaminen_id</text><text x="264.1" y="283">int8[19]</text><text x="26.6" y="312.4">nimi_id</text><text x="264.1" y="312.4">int8[19]</text><text x="26.6" y="341.7">siirtymaedellisesta_id</text><text x="264.1" y="341.7">int8[19]</text><text x="26.6" y="371">siirtymaseuraavaan_id</text><text x="264.1" y="371">int8[19]</text><text x="26.6" y="400.4">tehtava_id</text><text x="264.1" y="400.4">int8[19]</text><text x="26.6" y="429.7">tunniste_id</text><text x="264.1" y="429.7">uuid[2147483647]</text><text x="26.6" y="459">tila</text><text x="264.1" y="459">varchar[255]</text><text x="3.1" y="485.7">&lt; 2</text><text class="e" x="392.6" y="485.7">0 &gt;</text></g>
<text x="16.6" y="7606">Generated by SchemaSpy</text>
</g>
</svg>
